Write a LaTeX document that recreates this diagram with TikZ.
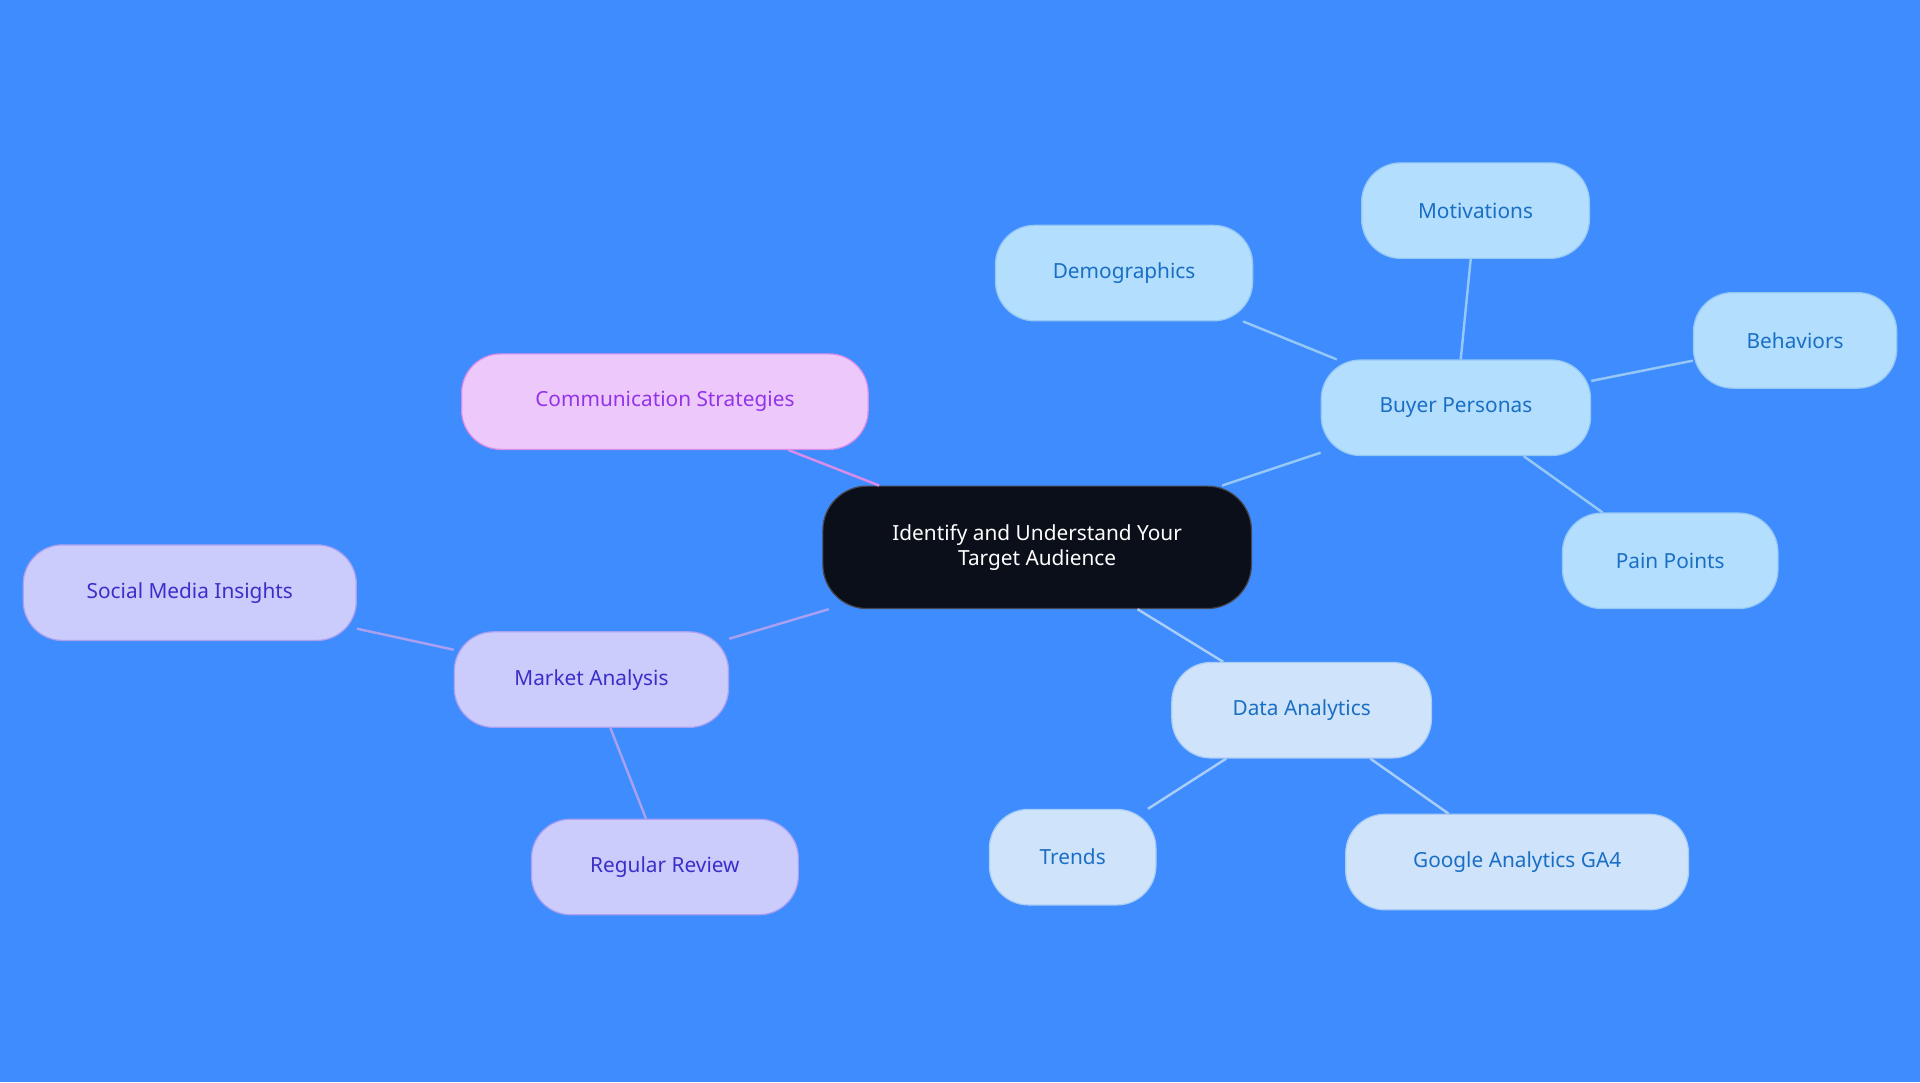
\documentclass[tikz,border=0pt]{standalone}
\usepackage{fontspec}
\setmainfont{Noto Sans}
\begin{document}
\definecolor{bg}{HTML}{3F8CFF}
\begin{tikzpicture}[x=1pt,y=-1pt,
 base/.style={rounded corners=32pt,minimum height=78pt,font=\fontsize{17}{20}\selectfont,line width=1pt,align=center,inner sep=0pt},
 pink/.style={base,fill=pink!30!white,fill={rgb,255:red,236;green,201;blue,250},draw={rgb,255:red,217;green,140;blue,232},text={rgb,255:red,147;green,51;blue,234}},
 lav/.style={base,fill={rgb,255:red,203;green,203;blue,252},draw={rgb,255:red,170;green,160;blue,240},text={rgb,255:red,59;green,47;blue,201}},
 sky/.style={base,fill={rgb,255:red,179;green,222;blue,253},draw={rgb,255:red,150;green,200;blue,245},text={rgb,255:red,26;green,111;blue,196}},
 pale/.style={base,fill={rgb,255:red,207;green,228;blue,251},draw={rgb,255:red,170;green,205;blue,245},text={rgb,255:red,26;green,111;blue,196}},
 e/.style={line width=2pt},
]
\fill[bg] (0,0) rectangle (1568,884);
\useasboundingbox (0,0) rectangle (1568,884);
\node[base,fill={rgb,255:red,11;green,15;blue,25},draw={rgb,255:red,70;green,70;blue,80},text=white,minimum width=350pt,minimum height=100pt,rounded corners=36pt] (c) at (847,447) {Identify and Understand Your\\Target Audience};
\node[pink,minimum width=332pt] (cs) at (543,328) {Communication Strategies};
\node[lav,minimum width=224pt] (ma) at (483,555) {Market Analysis};
\node[lav,minimum width=272pt] (sm) at (155,484) {Social Media Insights};
\node[lav,minimum width=218pt] (rr) at (543,708) {Regular Review};
\node[sky,minimum width=220pt] (bp) at (1189,333) {Buyer Personas};
\node[sky,minimum width=210pt] (de) at (918,223) {Demographics};
\node[sky,minimum width=186pt] (mo) at (1205,172) {Motivations};
\node[sky,minimum width=166pt] (be) at (1466,278) {Behaviors};
\node[sky,minimum width=176pt] (pp) at (1364,458) {Pain Points};
\node[pale,minimum width=212pt] (da) at (1063,580) {Data Analytics};
\node[pale,minimum width=136pt] (tr) at (876,700) {Trends};
\node[pale,minimum width=280pt] (ga) at (1239,704) {Google Analytics GA4};
\begin{scope}[on background layer/.style={}]
\end{scope}
\begin{pgfinterruptboundingbox}\end{pgfinterruptboundingbox}
\path (0,0);
\begin{scope}
\draw[e,draw={rgb,255:red,217;green,140;blue,232}] (c) -- (cs);
\draw[e,draw={rgb,255:red,170;green,160;blue,240}] (c) -- (ma) (ma) -- (sm) (ma) -- (rr);
\draw[e,draw={rgb,255:red,150;green,200;blue,245}] (c) -- (bp) (bp) -- (de) (bp) -- (mo) (bp) -- (be) (bp) -- (pp);
\draw[e,draw={rgb,255:red,170;green,205;blue,245}] (c) -- (da) (da) -- (tr) (da) -- (ga);
\end{scope}
\end{tikzpicture}
\end{document}
